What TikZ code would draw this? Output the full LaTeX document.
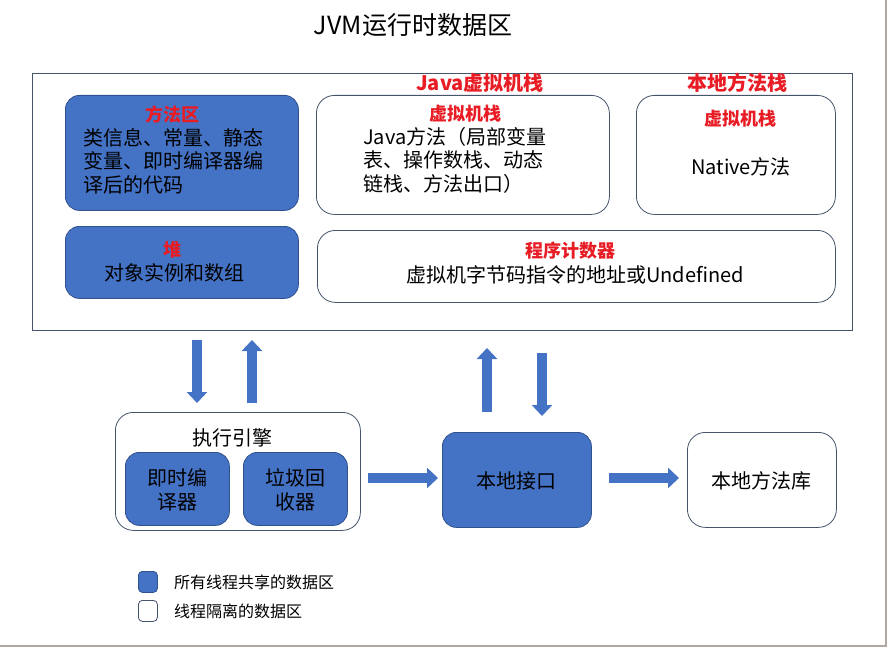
\documentclass[tikz,border=0pt]{standalone}
\usepackage{fontspec}
\newfontfamily\cjk{Noto Sans CJK SC}
\usetikzlibrary{arrows.meta}
\definecolor{jvmblue}{RGB}{68,114,196}
\definecolor{jvmedge}{RGB}{47,82,143}
\definecolor{jvmline}{RGB}{68,84,106}
\definecolor{jvmred}{RGB}{232,28,36}
\definecolor{jvmgrey}{RGB}{176,168,160}
\tikzset{
  shared/.style={draw=jvmedge, fill=jvmblue, line width=0.8pt, rounded corners=14pt, anchor=north west, inner sep=0pt},
  private/.style={draw=jvmline, fill=white, line width=0.8pt, rounded corners=18pt, anchor=north west, inner sep=0pt},
  head/.style={text=jvmred, font=\cjk\bfseries\fontsize{18}{20}\selectfont},
  body/.style={font=\cjk\fontsize{20}{23.5}\selectfont, align=left, inner sep=0pt},
  legend/.style={font=\cjk\fontsize{16}{18}\selectfont, anchor=west, inner sep=0pt},
  blockarrow/.style={draw=jvmblue, line width=9.5pt, -{Triangle[width=20pt,length=11pt]}}
}
\begin{document}
\begin{tikzpicture}[x=1pt, y=-1pt]
  \useasboundingbox (0,0) rectangle (890,647);
  \draw[jvmgrey, line width=1.5pt] (886,0) -- (886,646) -- (0,646);
  % title
  \node[font=\cjk\fontsize{25}{28}\selectfont] (title) at (413,25) {JVM运行时数据区};
  % runtime data area
  \node[draw=jvmline, line width=0.8pt, minimum width=820pt, minimum height=257pt, anchor=north west, inner sep=0pt] (area) at (32,73) {};
  \node[head, font=\cjk\bfseries\fontsize{20}{22}\selectfont] (jvmstack) at (480,83) {Java虚拟机栈};
  \node[head, font=\cjk\bfseries\fontsize{20}{22}\selectfont] (natstack) at (737,83) {本地方法栈};

  \node[shared, minimum width=233pt, minimum height=115pt] (method) at (65,95) {};
  \node[head] (methodh) at (172,115) {方法区};
  \node[body, anchor=north west] (methodt) at (83,128) {类信息、常量、静态\\变量、即时编译器编\\译后的代码};

  \node[shared, minimum width=233pt, minimum height=72pt] (heap) at (65,226) {};
  \node[head] (heaph) at (172,250) {堆};
  \node[body] (heapt) at (174,273) {对象实例和数组};

  \node[private, minimum width=293pt, minimum height=119pt] (vmstack) at (316,95) {};
  \node[head] (vmstackh) at (465,114) {虚拟机栈};
  \node[body, anchor=north west] (vmstackt) at (363,127) {Java方法（局部变量\\表、操作数栈、动态\\链栈、方法出口）};

  \node[private, minimum width=199pt, minimum height=119pt] (nstack) at (636,95) {};
  \node[head] (nstackh) at (740,119) {虚拟机栈};
  \node[body] (nstackt) at (741,167) {Native方法};

  \node[private, minimum width=518pt, minimum height=72pt] (pc) at (317,230) {};
  \node[head] (pch) at (570,251) {程序计数器};
  \node[body] (pct) at (575,275) {虚拟机字节码指令的地址或Undefined};

  % execution engine
  \node[private, minimum width=245pt, minimum height=118pt] (engine) at (115,412) {};
  \node[body] (enginet) at (232,438) {执行引擎};
  \node[shared, minimum width=104pt, minimum height=73pt] (jit) at (125,452) {};
  \node[body, align=center] (jitt) at (177,490) {即时编\\译器};
  \node[shared, minimum width=104pt, minimum height=73pt] (gc) at (243,452) {};
  \node[body, align=center] (gct) at (295,490) {垃圾回\\收器};

  \node[shared, minimum width=149pt, minimum height=95pt] (jni) at (442,432) {};
  \node[body] (jnit) at (516,481) {本地接口};
  \node[private, minimum width=149pt, minimum height=95pt] (lib) at (687,432) {};
  \node[body] (libt) at (761,481) {本地方法库};

  % arrows
  \coordinate (a1) at (197,340); \coordinate (b1) at (197,403);
  \coordinate (a2) at (252,403); \coordinate (b2) at (252,340);
  \coordinate (a3) at (487,412); \coordinate (b3) at (487,348);
  \coordinate (a4) at (542,353); \coordinate (b4) at (542,416);
  \coordinate (a5) at (368,478); \coordinate (b5) at (438,478);
  \coordinate (a6) at (609,478); \coordinate (b6) at (679,478);
  \draw[blockarrow] (a1) -- (b1);
  \draw[blockarrow] (a2) -- (b2);
  \draw[blockarrow] (a3) -- (b3);
  \draw[blockarrow] (a4) -- (b4);
  \draw[blockarrow] (a5) -- (b5);
  \draw[blockarrow] (a6) -- (b6);

  % legend
  \node[shared, rounded corners=4pt, minimum width=19pt, minimum height=21pt] (keyshared) at (138,571) {};
  \node[legend] (keysharedt) at (174,582) {所有线程共享的数据区};
  \node[private, rounded corners=4pt, minimum width=19pt, minimum height=21pt] (keyprivate) at (138,600) {};
  \node[legend] (keyprivatet) at (174,611) {线程隔离的数据区};
\end{tikzpicture}
\end{document}
